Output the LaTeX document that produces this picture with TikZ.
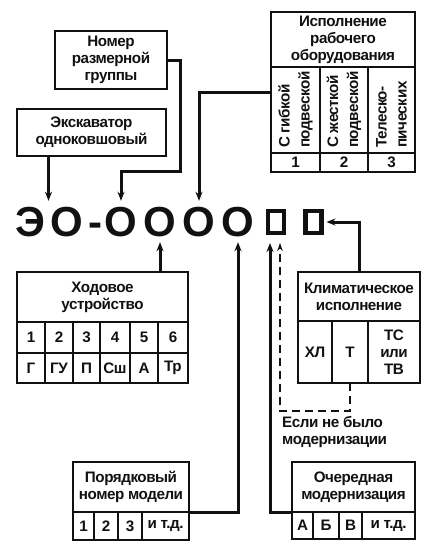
\documentclass[tikz,border=0pt]{standalone}
\usepackage{fontspec}
\setmainfont{Liberation Sans}
\newfontfamily\labelfam{Liberation Sans}[LetterSpace=-3]
\usetikzlibrary{arrows.meta,fit,calc}
\definecolor{inkBlack}{HTML}{111111}
\newcommand{\lblsize}{\labelfam\fontsize{15.2}{17}\selectfont\bfseries}
\newcommand{\vlblsize}{\labelfam\fontsize{15.2}{20}\selectfont\bfseries}
\newcommand{\bigsize}{\fontsize{42}{42}\selectfont\bfseries}
\tikzset{
  box/.style={draw=inkBlack, line width=1.6pt, anchor=north west, outer sep=0pt,
        inner sep=1pt, align=center, font=\lblsize, text=inkBlack},
  sz/.style 2 args={minimum width=#1pt, minimum height=#2pt},
  vtxt/.style={font=\vlblsize, rotate=90, anchor=west, align=left, inner sep=0pt,
        text=inkBlack},
  glyph/.style={font=\bigsize, text=inkBlack, inner sep=0pt, text height=31pt,
        text depth=0pt, anchor=base},
  sqbox/.style={draw=inkBlack, line width=4.5pt, minimum width=16pt,
        minimum height=22pt, inner sep=0pt, outer sep=0pt},
  conn/.style={-{Stealth[length=9pt,width=7pt]}, line width=3pt, draw=inkBlack,
        shorten >=4pt},
  dconn/.style={-{Stealth[length=8pt,width=5.5pt]}, line width=1.6pt, draw=inkBlack,
        dash pattern=on 8pt off 5pt},
  note/.style={font=\lblsize, align=left, anchor=north west, inner sep=0pt,
        text=inkBlack}
}

\begin{document}
\begin{tikzpicture}[x=1pt, y=-1pt]
\useasboundingbox (0,0) rectangle (433,558);

% index line
\node[glyph] (eChar) at (30.5,236) {Э};
\node[glyph] (oChar) at (66.5,236) {О};
\node[glyph] (dash)  at (95,236)   {-};
\node[glyph] (o1)    at (121,236)  {О};
\node[glyph] (o2)    at (160,236)  {О};
\node[glyph] (o3)    at (199,236)  {О};
\node[glyph] (o4)    at (238,236)  {О};
\node[sqbox] (sq1) at (276,222) {};
\node[sqbox] (sq2) at (313.5,222) {};
\coordinate (eoTop) at ($(eChar.north)!0.5!(oChar.north)$);

% upper boxes
\node[box, sz={149}{47}] (exk) at (17,109) {Экскаватор\\одноковшовый};
\node[box, sz={112}{58}] (nom) at (55,31)  {Номер\\размерной\\группы};

% working equipment
\node[box, sz={144}{55}] (ispT) at (271,12) {Исполнение\\рабочего\\оборудования};
\node[box, sz={49}{86}] (isp1) at (271,67) {};
\node[box, sz={48}{86}] (isp2) at (320,67) {};
\node[box, sz={47}{86}] (isp3) at (368,67) {};
\node[vtxt] at ([yshift=5pt]isp1.south) {С гибкой\\подвеской};
\node[vtxt] at ([yshift=5pt]isp2.south) {С жесткой\\подвеской};
\node[vtxt] at ([yshift=5pt]isp3.south) {Телеско-\\пических};
\node[box, sz={49}{19}] (ispN1) at (271,153) {1};
\node[box, sz={48}{19}] (ispN2) at (320,153) {2};
\node[box, sz={47}{19}] (ispN3) at (368,153) {3};
\node[fit=(ispT)(ispN3), inner sep=0pt, outer sep=0pt] (isp) {};

% running gear
\node[box, sz={171}{50}] (hodT) at (17,272) {Ходовое\\устройство};
\node[box, sz={28}{31}] (hodN1) at (17,322)  {1};
\node[box, sz={28}{31}] (hodN2) at (45,322)  {2};
\node[box, sz={27}{31}] (hodN3) at (73,322)  {3};
\node[box, sz={30}{31}] (hodN4) at (100,322) {4};
\node[box, sz={28}{31}] (hodN5) at (130,322) {5};
\node[box, sz={30}{31}] (hodN6) at (158,322) {6};
\node[box, sz={28}{30}] (hodL1) at (17,353)  {Г};
\node[box, sz={28}{30}] (hodL2) at (45,353)  {ГУ};
\node[box, sz={27}{30}] (hodL3) at (73,353)  {П};
\node[box, sz={30}{30}] (hodL4) at (100,353) {Сш};
\node[box, sz={28}{30}] (hodL5) at (130,353) {А};
\node[box, sz={30}{30}] (hodL6) at (158,353) {Тр};

% climate
\node[box, sz={122}{49}] (klimT) at (298,272) {Климатическое\\исполнение};
\node[box, sz={34}{62}] (klim1) at (298,321) {ХЛ};
\node[box, sz={36}{62}] (klim2) at (332,321) {Т};
\node[box, sz={52}{62}] (klim3) at (368,321) {ТС\\или\\ТВ};
\node[note] (nomod) at (282,416) {Если не было\\модернизации};

% model number
\node[box, sz={116}{50}] (porT) at (73,462) {Порядковый\\номер модели};
\node[box, sz={21}{28}] (porN1) at (73,512)  {1};
\node[box, sz={24}{28}] (porN2) at (94,512)  {2};
\node[box, sz={24}{28}] (porN3) at (118,512) {3};
\node[box, sz={47}{28}] (porN4) at (142,512) {и т.д.};

% modernization
\node[box, sz={123}{50}] (ochT) at (292,462) {Очередная\\модернизация};
\node[box, sz={21}{27}] (ochN1) at (292,512) {А};
\node[box, sz={26}{27}] (ochN2) at (313,512) {Б};
\node[box, sz={23}{27}] (ochN3) at (339,512) {В};
\node[box, sz={53}{27}] (ochN4) at (362,512) {и т.д.};

% arrows
\draw[conn] (exk.south -| eoTop) -- (eoTop);
\draw[conn] (nom.east) -- ++(13,0) -- ++(0,111) -| (o1.north);
\draw[conn] (isp.west) -| (o3.north);
\draw[conn, shorten >=6pt] (o2.south |- hodT.north) -- (o2.south);
\draw[conn, shorten >=6pt] (porT.south east) -| (o4.south);
\draw[conn, shorten >=10pt] (ochT.south west) -| ([xshift=-6pt]sq1.south);
\draw[dconn, shorten >=10pt] (klim2.south) -- ++(0,28) -| ([xshift=4pt]sq1.south);
\draw[conn, shorten >=5pt] (klimT.north) |- (sq2.east);
\end{tikzpicture}
\end{document}
